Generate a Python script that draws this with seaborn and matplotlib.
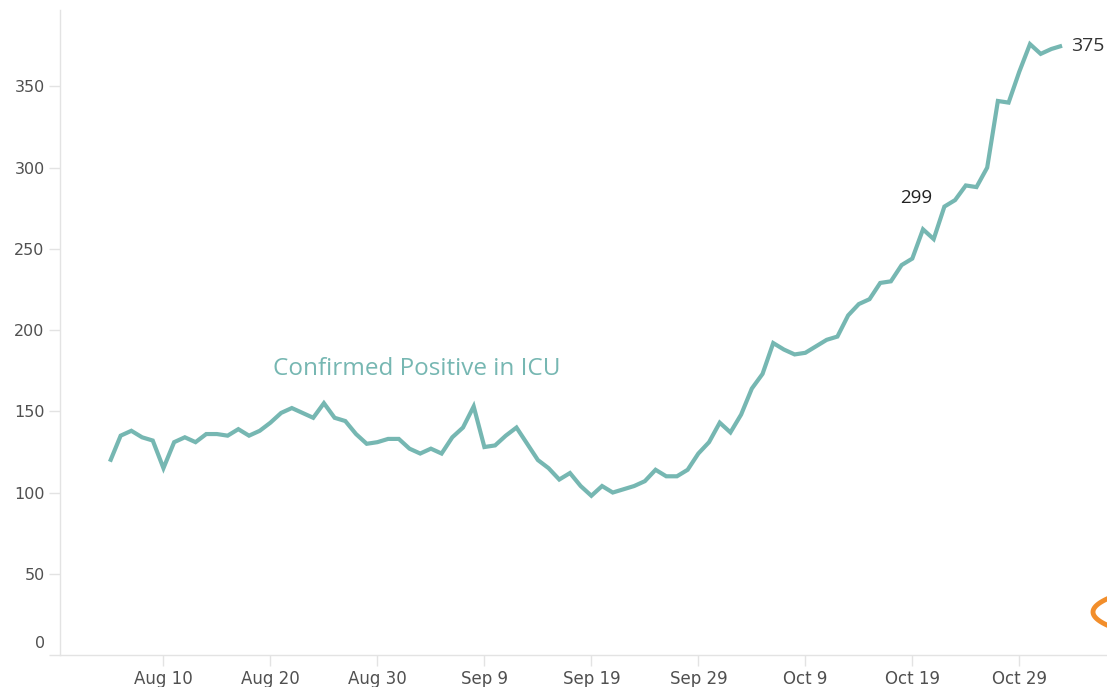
import matplotlib
matplotlib.use("Agg")
import matplotlib.pyplot as plt
import matplotlib.transforms as mtransforms
from matplotlib.lines import Line2D
import numpy as np
import pandas as pd
import seaborn as sns

# ---- data -------------------------------------------------------------
start_date = "2020-08-05"
icu_values = [
    119, 135, 138, 134, 132, 115, 131, 134, 131, 136,
    136, 135, 139, 135, 138, 143, 149, 152, 149, 146,
    155, 146, 144, 136, 130, 131, 133, 133, 127, 124,
    127, 124, 134, 140, 153, 128, 129, 135, 140, 130,
    120, 115, 108, 112, 104, 98, 104, 100, 102, 104,
    107, 114, 110, 110, 114, 124, 131, 143, 137, 148,
    164, 173, 192, 188, 185, 186, 190, 194, 196, 209,
    216, 219, 229, 230, 240, 244, 262, 256, 276, 280,
    289, 288, 300, 341, 340, 359, 376, 370, 373, 375,
]
series_label = "Confirmed Positive in ICU"
y_ticks = [0, 50, 100, 150, 200, 250, 300, 350]
x_tick_dates = ["2020-08-10", "2020-08-20", "2020-08-30", "2020-09-09",
                "2020-09-19", "2020-09-29", "2020-10-09", "2020-10-19",
                "2020-10-29"]
x_tick_labels = ["Aug 10", "Aug 20", "Aug 30", "Sep 9", "Sep 19",
                 "Sep 29", "Oct 9", "Oct 19", "Oct 29"]
annot_mid_text = "299"
annot_end_text = "375"

dates = pd.date_range(start_date, periods=len(icu_values), freq="D")
df = pd.DataFrame({"date": dates, "icu": icu_values})

# ---- plot -------------------------------------------------------------
sns.set_theme(style="white")
plt.rcParams["font.family"] = ["Open Sans", "DejaVu Sans"]

teal = "#76B7B2"
axis_grey = "#e3e3e3"
tick_text = "#505050"

fig = plt.figure(figsize=(11.07, 6.87), dpi=100)
ax = fig.add_axes([60 / 1107, 1 - 655 / 687, 1 - 60 / 1107, (655 - 10) / 687])

sns.lineplot(data=df, x="date", y="icu", ax=ax, color=teal, linewidth=3.0,
             solid_joinstyle="miter", solid_capstyle="butt")

d0 = pd.Timestamp(start_date)
ax.set_xlim(d0 - pd.Timedelta(days=4.67), d0 + pd.Timedelta(days=93.2))
ax.set_ylim(0, 397)

ax.set_yticks(y_ticks)
ax.set_yticklabels([str(v) for v in y_ticks])
ax.set_xticks(pd.to_datetime(x_tick_dates))
ax.set_xticklabels(x_tick_labels)

ax.set_xlabel("")
ax.set_ylabel("")

for side in ["top", "right"]:
    ax.spines[side].set_visible(False)
for side in ["left", "bottom"]:
    ax.spines[side].set_color(axis_grey)
    ax.spines[side].set_linewidth(1.0)

ax.tick_params(axis="y", which="major", length=8, width=1, color=axis_grey,
               labelcolor=tick_text, pad=3, left=True)
ax.tick_params(axis="x", which="major", length=8, width=1, color=axis_grey,
               labelcolor=tick_text, pad=3, bottom=True)
for lbl in ax.get_yticklabels():
    lbl.set_fontfamily("DejaVu Sans")
    lbl.set_fontsize(11.5)
for lbl in ax.get_xticklabels():
    lbl.set_fontfamily("DejaVu Sans")
    lbl.set_fontsize(12)

# the "0" label sits a little higher in the reference
for lbl in ax.get_yticklabels():
    if lbl.get_text() == "0":
        lbl.set_transform(lbl.get_transform() +
                          mtransforms.ScaledTranslation(0, 13 / 100, fig.dpi_scale_trans))

# annotations
ax.text(d0 + pd.Timedelta(days=28.7), 176, series_label, color=teal,
        fontsize=17.5, ha="center", va="center")
ax.text(d0 + pd.Timedelta(days=75.4), 281, annot_mid_text, color="#222222",
        fontsize=13.5, ha="center", va="center")
ax.text(df["date"].iloc[-1] + pd.Timedelta(days=0.8), icu_values[-1],
        annot_end_text, color="#333333", fontsize=14, ha="left", va="center",
        clip_on=False)

# orange UI glyph at the right edge (decoration, figure pixels)
t = np.linspace(-1, 1, 30)
gx = (1093 + 16 * t ** 2) / 1107
gy = 1 - (612 + 14 * t) / 687
fig.add_artist(Line2D(gx, gy, transform=fig.transFigure, color="#F28E2B",
                      linewidth=3.5, solid_capstyle="round"))

fig.savefig("out.png", dpi=100)
